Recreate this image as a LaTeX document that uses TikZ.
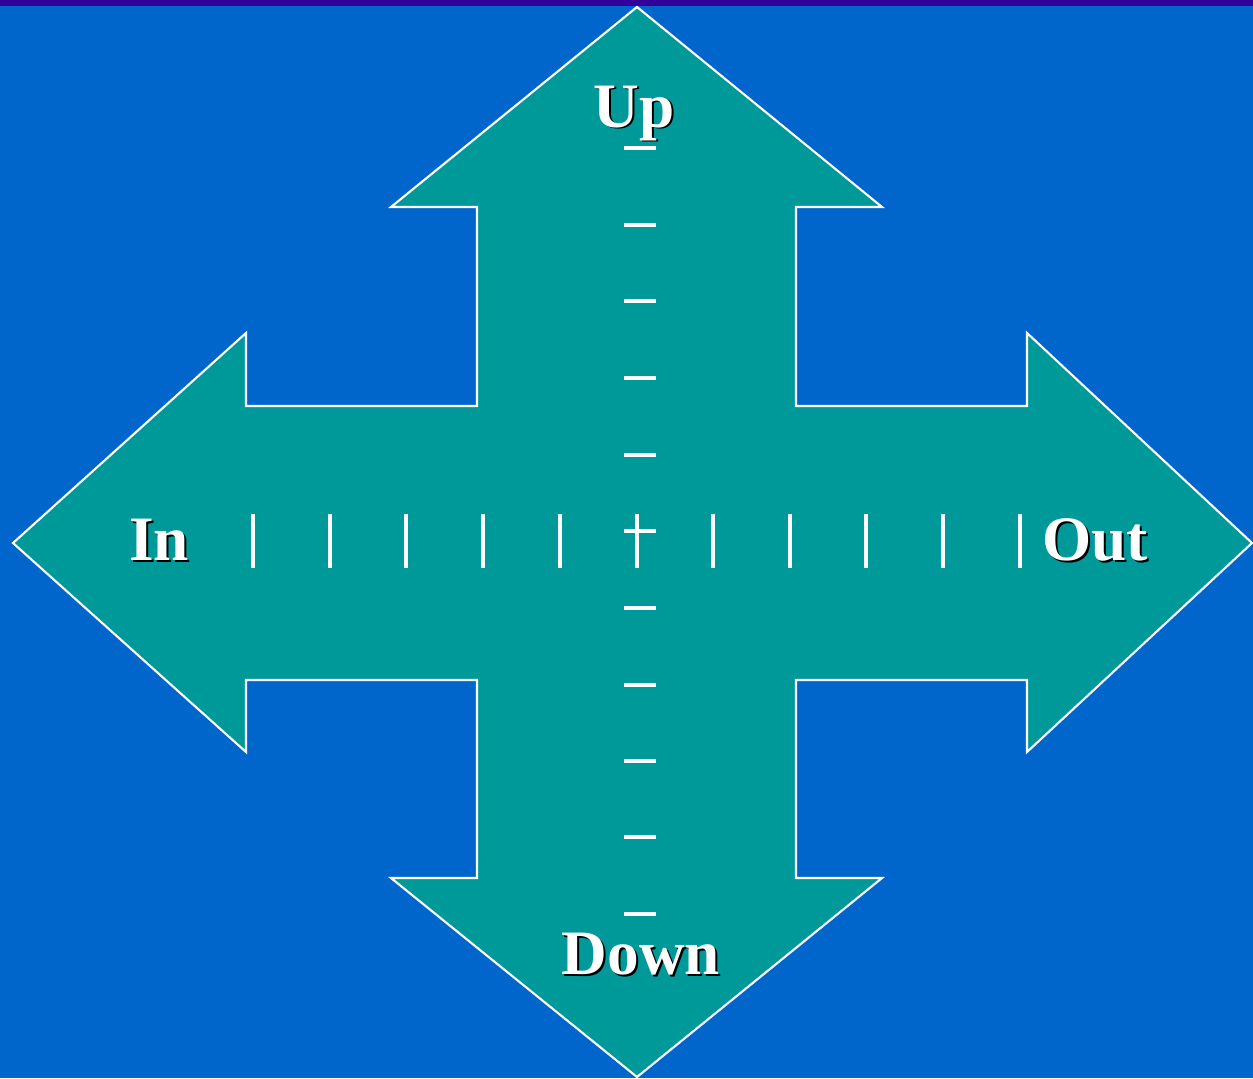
\documentclass[tikz,border=0pt]{standalone}
\usepackage{fontspec}
\setmainfont{Liberation Serif}
\usepackage{tikz}
\usepackage{xcolor}
\usetikzlibrary{calc}
\definecolor{slideblue}{HTML}{0066CC}
\definecolor{slidetop}{HTML}{330099}
\definecolor{crossteal}{HTML}{009999}
\tikzstyle{dirlabel} = [font=\fontsize{36}{40}\selectfont\bfseries, text=white,
                        anchor=base, inner sep=0pt]
\tikzstyle{dirshadow} = [dirlabel, text=black]
\tikzstyle{tick} = [white, line width=2pt]

\begin{document}
\begin{tikzpicture}[x=0.02cm, y=-0.02cm]
    \useasboundingbox (0,0) rectangle (1253,1078);
    % Background
    \fill[slideblue] (0,0) rectangle (1253,1078);
    \fill[slidetop] (0,0) rectangle (1253,6);

    % Four-way arrow
    \draw[fill=crossteal, draw=white, line width=1.2pt]
        (637,7) -- (882,207) -- (796,207) -- (796,406) -- (1027,406) -- (1027,333)
        -- (1252,543) -- (1027,752) -- (1027,680) -- (796,680) -- (796,878)
        -- (882,878) -- (637,1077) -- (391,878) -- (477,878) -- (477,680)
        -- (246,680) -- (246,752) -- (13,543) -- (246,333) -- (246,406)
        -- (477,406) -- (477,207) -- (391,207) -- cycle;

    % Scale marks
    \foreach \y in {148,225,301,378,455,531,608,685,761,837,914}
        \draw[tick] (624,\y) -- (656,\y);
    \foreach \x in {253,330,406,483,560,637,713,790,866,943,1020}
        \draw[tick] (\x,514) -- (\x,568);

    % Labels
    \node[dirshadow] (up-s) at (636,129) {Up};
    \node[dirlabel] (up) at (634,127) {Up};
    \node[dirshadow] (in-s) at (161,562) {In};
    \node[dirlabel] (in) at (159,560) {In};
    \node[dirshadow] (out-s) at (1097,562) {Out};
    \node[dirlabel] (out) at (1095,560) {Out};
    \node[dirshadow] (down-s) at (643,976) {Down};
    \node[dirlabel] (down) at (641,974) {Down};
\end{tikzpicture}
\end{document}
